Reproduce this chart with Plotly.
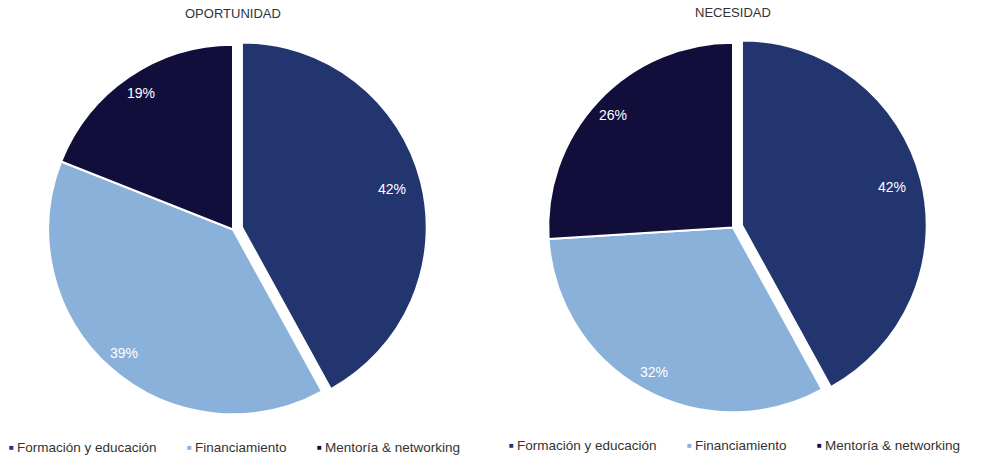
import math
import plotly.graph_objects as go

categories = ["Formación y educación", "Financiamiento", "Mentoría & networking"]
oportunidad = [42, 39, 19]
necesidad = [42, 32, 26]
titles = ["OPORTUNIDAD", "NECESIDAD"]
colors = ["#22356f", "#8ab1da", "#110e3c"]

W, H = 981, 457
FONT = "Liberation Sans"

def dom(cx, cy, half):
    return dict(x=[(cx - half) / W, (cx + half) / W], y=[1 - (cy + half) / H, 1 - (cy - half) / H])

pies = [
    dict(values=oportunidad, cx=233, cy=229.5, half=194, title=titles[0], tx=233, ty=14, lx=8, ly=447),
    dict(values=necesidad, cx=733, cy=227.5, half=194, title=titles[1], tx=733, ty=12, lx=508, ly=445),
]
PULL = 0.05
legend_offsets = [0, 178, 308]

fig = go.Figure()
for p in pies:
    fig.add_trace(go.Pie(
        labels=categories, values=p["values"], sort=False, direction="clockwise", rotation=0,
        pull=[PULL, 0, 0], marker=dict(colors=colors, line=dict(color="white", width=2)),
        textinfo="none", domain=dom(p["cx"], p["cy"], p["half"]), showlegend=False,
        hoverinfo="label+value",
    ))
    # percent labels, placed along each slice's mid-angle
    r = p["half"] / (1 + PULL)
    total = sum(p["values"])
    cum = 0
    for v in p["values"]:
        mid = (cum + v / 2) / total * 2 * math.pi
        cum += v
        x = p["cx"] + 0.89 * r * math.sin(mid)
        y = p["cy"] - 0.89 * r * math.cos(mid)
        fig.add_annotation(text=f"{v}%", x=x / W, y=1 - y / H, xref="paper", yref="paper",
                           showarrow=False, xanchor="center", yanchor="middle",
                           font=dict(size=14, color="white", family=FONT))
    fig.add_annotation(text=p["title"], x=p["tx"] / W, y=1 - p["ty"] / H, xref="paper", yref="paper",
                       showarrow=False, xanchor="center", yanchor="middle",
                       font=dict(size=13, color="#333333", family=FONT))
    for cat, col, off in zip(categories, colors, legend_offsets):
        fig.add_annotation(text="■", x=(p["lx"] + off - 1) / W, y=1 - (p["ly"] + 0.5) / H,
                           xref="paper", yref="paper", showarrow=False,
                           xanchor="left", yanchor="middle", font=dict(size=8, color=col, family=FONT))
        fig.add_annotation(text=cat, x=(p["lx"] + off + 7) / W, y=1 - p["ly"] / H,
                           xref="paper", yref="paper", showarrow=False,
                           xanchor="left", yanchor="middle", font=dict(size=13.5, color="#333333", family=FONT))

fig.update_layout(
    width=W, height=H, margin=dict(l=0, r=0, t=0, b=0),
    paper_bgcolor="white", plot_bgcolor="white", showlegend=False,
)
fig.write_html("out.html", config={"displayModeBar": False},
               post_script="document.body.style.margin='0';document.body.style.overflow='hidden';")
